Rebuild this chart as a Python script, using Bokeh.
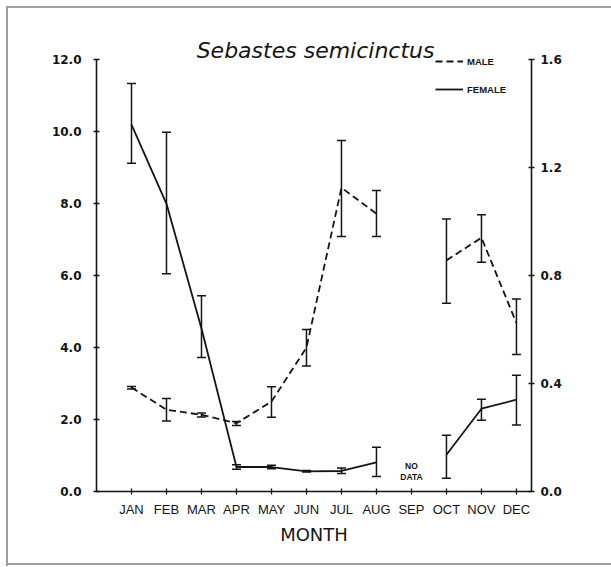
import math
from bokeh.plotting import figure
from bokeh.models import (ColumnDataSource, LinearAxis, Range1d, FixedTicker,
                          PrintfTickFormatter, Whisker, TeeHead, Label, Legend, LegendItem)
from bokeh.embed import file_html
from bokeh.resources import INLINE

nan = float("nan")
months = ["JAN", "FEB", "MAR", "APR", "MAY", "JUN", "JUL", "AUG", "SEP", "OCT", "NOV", "DEC"]
month_num = list(range(1, 13))

female_gsi = [10.19, 7.99, 4.53, 0.68, 0.68, 0.56, 0.57, 0.81, nan, 1.02, 2.30, 2.55]
female_upper = [11.33, 9.98, 5.44, 0.74, 0.73, 0.58, 0.65, 1.23, nan, 1.56, 2.56, 3.23]
female_lower = [9.12, 6.05, 3.72, 0.62, 0.63, 0.54, 0.50, 0.42, nan, 0.37, 1.98, 1.85]

male_gsi = [0.385, 0.303, 0.284, 0.253, 0.333, 0.533, 1.125, 1.029, nan, 0.856, 0.940, 0.624]
male_upper = [0.389, 0.344, 0.291, 0.259, 0.388, 0.600, 1.300, 1.115, nan, 1.009, 1.025, 0.713]
male_lower = [0.380, 0.261, 0.276, 0.244, 0.275, 0.465, 0.944, 0.944, nan, 0.697, 0.849, 0.507]

female_ticks = [0, 2, 4, 6, 8, 10, 12]
male_ticks = [0, 0.4, 0.8, 1.2, 1.6]
female_max = 12.0
male_max = 1.6

INK = "#151515"
TICK_FONT = "DejaVu Sans"
LABEL_FONT = "DejaVu Sans"

# frame extends above the axes' top tick so title/legend sit inside it
top_pad = 39 / 36.0
p = figure(frame_width=435, frame_height=471,
           x_range=Range1d(0, 12.43), y_range=Range1d(0, female_max + top_pad),
           output_backend="svg", toolbar_location=None,
           min_border_left=96, min_border_right=80, min_border_top=20, min_border_bottom=75,
           background_fill_color=None, border_fill_color=None)
p.outline_line_color = None
p.grid.visible = False
p.extra_y_ranges = {"male": Range1d(0, (female_max + top_pad) * male_max / female_max)}
g = "linear-gradient(#a0a0a0,#a0a0a0)"
p.styles = {"background": f"{g} 6px 6px / 2px 560px no-repeat, "
                          f"{g} 6px 6px / 620px 2px no-repeat, "
                          f"{g} 6px 563px / 620px 2px no-repeat, white"}

right = LinearAxis(y_range_name="male")
p.add_layout(right, "right")

xa = p.xaxis[0]
ya = p.yaxis[0]
for ax in (xa, ya, right):
    ax.axis_line_width = 1.6
    ax.axis_line_color = INK
    ax.major_tick_in = 3
    ax.major_tick_out = 3
    ax.major_tick_line_width = 1.3
    ax.major_tick_line_color = INK
    ax.minor_tick_line_color = None
    ax.major_label_text_color = INK

xa.ticker = FixedTicker(ticks=month_num)
xa.major_label_overrides = {m: name for m, name in zip(month_num, months)}
xa.major_label_text_font = "Liberation Sans"
xa.major_label_text_font_size = "13px"
xa.major_label_standoff = 7
xa.axis_label = "MONTH"
xa.axis_label_text_font = LABEL_FONT
xa.axis_label_text_font_style = "normal"
xa.axis_label_text_font_size = "18px"
xa.axis_label_text_color = INK
xa.axis_label_standoff = 4

ya.ticker = FixedTicker(ticks=female_ticks)
ya.formatter = PrintfTickFormatter(format="%.1f")
ya.bounds = (0, female_max)
ya.major_label_text_font = TICK_FONT
ya.major_label_text_font_style = "bold"
ya.major_label_text_font_size = "12px"
ya.major_label_standoff = 12

right.ticker = FixedTicker(ticks=male_ticks)
right.formatter = PrintfTickFormatter(format="%.1f")
right.bounds = (0, male_max)
right.major_label_text_font = TICK_FONT
right.major_label_text_font_style = "bold"
right.major_label_text_font_size = "12px"
right.major_label_standoff = 6

# data sources
src_f = ColumnDataSource(dict(x=month_num, y=female_gsi))
src_m = ColumnDataSource(dict(x=month_num, y=male_gsi))

def valid(xs, lo, hi):
    keep = [i for i in range(len(xs)) if not (math.isnan(lo[i]) or math.isnan(hi[i]))]
    return ColumnDataSource(dict(x=[xs[i] for i in keep], lower=[lo[i] for i in keep],
                                 upper=[hi[i] for i in keep]))

err_f = valid(month_num, female_lower, female_upper)
err_m = valid(month_num, male_lower, male_upper)

r_f = p.line("x", "y", source=src_f, line_color=INK, line_width=1.8)
r_m = p.line("x", "y", source=src_m, line_color=INK, line_width=1.8,
             line_dash="7 4", y_range_name="male")

for src, rng in ((err_f, "default"), (err_m, "male")):
    w = Whisker(base="x", lower="lower", upper="upper", source=src,
                line_color=INK, line_width=1.5,
                upper_head=TeeHead(size=9, line_color=INK, line_width=1.5),
                lower_head=TeeHead(size=9, line_color=INK, line_width=1.5))
    if rng != "default":
        w.y_range_name = rng
    p.add_layout(w)

legend = Legend(items=[LegendItem(label="MALE", renderers=[r_m]),
                       LegendItem(label="FEMALE", renderers=[r_f])],
                location=(339, 392), padding=0, margin=0, spacing=8,
                glyph_width=28, glyph_height=20, label_height=20, label_standoff=4,
                border_line_color=None, background_fill_alpha=0,
                label_text_font="Liberation Sans", label_text_font_style="bold",
                label_text_font_size="9.5px", label_text_color=INK)
p.add_layout(legend)

p.add_layout(Label(x=6.36, y=12.26, text="Sebastes  semicinctus", text_align="center",
                   text_baseline="alphabetic", text_font="DejaVu Sans",
                   text_font_style="italic", text_font_size="22px", text_color=INK))

p.add_layout(Label(x=-1.34, y=6, text="GSI  \u2013  FEMALES", angle=math.pi / 2,
                   text_align="center", text_baseline="middle", text_font=LABEL_FONT,
                   text_font_size="18px", text_color=INK))

p.add_layout(Label(x=13.74, y=6, text="GSI  \u2013  MALES", angle=math.pi / 2,
                   text_align="center", text_baseline="middle", text_font=LABEL_FONT,
                   text_font_size="18px", text_color=INK))

p.add_layout(Label(x=9, y=0.72, text="NO", text_align="center", text_baseline="alphabetic",
                   text_font="Liberation Sans", text_font_style="bold",
                   text_font_size="8.5px", text_color=INK))
p.add_layout(Label(x=9, y=0.39, text="DATA", text_align="center", text_baseline="alphabetic",
                   text_font="Liberation Sans", text_font_style="bold",
                   text_font_size="8.5px", text_color=INK))

open("out.html", "w").write(file_html(p, INLINE))
